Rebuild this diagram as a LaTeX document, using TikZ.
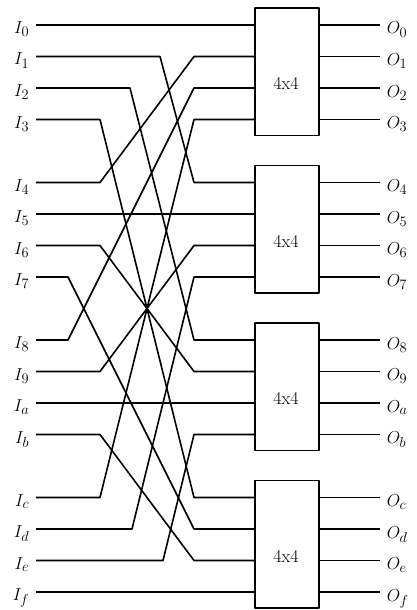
\documentclass[tikz,border=0pt]{standalone}
\begin{document}
\begin{tikzpicture}[x=1pt,y=-1pt,line width=1.6pt,line join=round,
  lbl/.style={inner sep=0pt,font=\fontsize{19}{22}\selectfont},
  boxtxt/.style={inner sep=0pt,font=\fontsize{18}{20}\selectfont},
  swbox/.style={draw,line width=1.6pt,fill=white,minimum width=64pt,minimum height=127.5pt,inner sep=0pt},
  wire/.style={draw,line width=1.6pt}]
\useasboundingbox (0,0) rectangle (416,610);
% switch boxes
\foreach \b in {0,...,3}{
  \pgfmathsetmacro{\cy}{25+31.5*(5*\b+1.5)-0.5}
  \node[swbox] (B\b) at (287,\cy) {};
  \node[boxtxt] (T\b) at (286,\cy+12) {4x4};
}
% rows, labels, ports
\foreach \k/\s in {0/0,1/1,2/2,3/3,4/4,5/5,6/6,7/7,8/8,9/9,10/a,11/b,12/c,13/d,14/e,15/f}{
  \pgfmathtruncatemacro{\g}{floor(\k/4)}
  \pgfmathsetmacro{\yy}{25+31.5*(\k+\g)}
  \node[lbl,anchor=base east] (I\s) at (30,\yy+8.5) {$I_{\s}$};
  \node[lbl,anchor=base west] (O\s) at (386,\yy+9) {$O_{\s}$};
  \coordinate (in\k) at (36,\yy);
  \coordinate (pl\k) at (255,\yy);
  \coordinate (pr\k) at (319,\yy);
  \coordinate (out\k) at (380,\yy);
  \draw[wire] (pr\k) -- (out\k);
}
% shuffle wiring
\foreach \k/\bx in {0/0,1/160,2/130,3/100,4/100,5/0,6/100,7/68,8/68,9/100,10/0,11/100,12/100,13/132,14/163,15/0}{
  \pgfmathtruncatemacro{\g}{floor(\k/4)}
  \pgfmathtruncatemacro{\r}{mod(\k,4)}
  \pgfmathtruncatemacro{\d}{4*\r+\g}
  \pgfmathsetmacro{\ys}{25+31.5*(\k+\g)}
  \pgfmathsetmacro{\yd}{25+31.5*(5*\r+\g)}
  \ifnum\bx=0
    \draw[wire] (in\k) -- (pl\d);
  \else
    \coordinate (bl\k) at (\bx,\ys);
    \coordinate (br\k) at (194,\yd);
    \draw[wire] (in\k) -- (bl\k) -- (br\k) -- (pl\d);
  \fi
}
\end{tikzpicture}
\end{document}
